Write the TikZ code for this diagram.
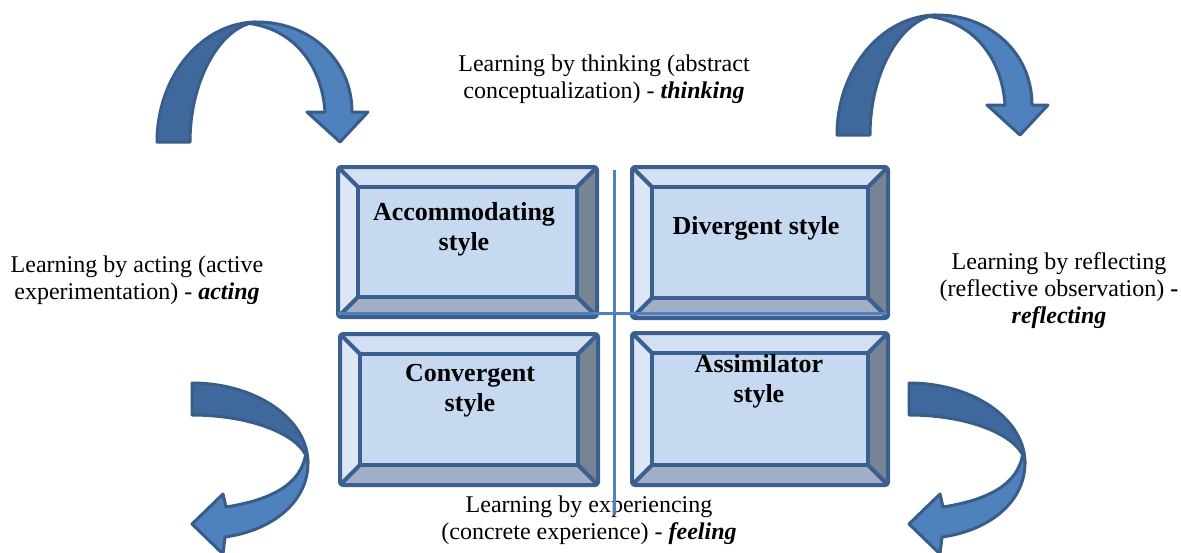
\documentclass[tikz,border=0pt]{standalone}
\usepackage{fontspec}
\setmainfont{Liberation Serif}
\usetikzlibrary{calc}
\definecolor{bord}{HTML}{3B5F8E}
\definecolor{bvtop}{HTML}{D3E0F3}
\definecolor{bvleft}{HTML}{DCE6F4}
\definecolor{bvright}{HTML}{778493}
\definecolor{bvbot}{HTML}{A1AEC5}
\definecolor{bvmid}{HTML}{C6D9F1}
\definecolor{arrdark}{HTML}{3F699C}
\definecolor{arrlight}{HTML}{4F81BD}
\definecolor{arredge}{HTML}{385D8A}
\definecolor{axisc}{HTML}{4F81BD}
\tikzset{
  bevline/.style={draw=bord, line width=2pt, line join=round},
  darkpart/.style={fill=arrdark, draw=arredge, line width=1.5pt, line join=round},
  lightpart/.style={fill=arrlight, draw=arredge, line width=1.5pt, line join=round},
  axisline/.style={draw=axisc, line width=1.5pt},
  boxlabel/.style={font=\fontsize{13}{15}\selectfont\bfseries, align=center, inner sep=0pt},
  outlabel/.style={font=\fontsize{12}{13.5}\selectfont, align=center, inner sep=0pt},
}
\newcommand\bevbox[5]{%
  \coordinate (#1-o1) at (#2,#3);
  \coordinate (#1-o2) at (#4,#3);
  \coordinate (#1-o3) at (#4,#5);
  \coordinate (#1-o4) at (#2,#5);
  \coordinate (#1-i1) at ($(#1-o1)+(20,20)$);
  \coordinate (#1-i2) at ($(#1-o2)+(-20,20)$);
  \coordinate (#1-i3) at ($(#1-o3)+(-20,-20)$);
  \coordinate (#1-i4) at ($(#1-o4)+(20,-20)$);
  \fill[bvtop] (#1-o1)--(#1-o2)--(#1-i2)--(#1-i1)--cycle;
  \fill[bvleft] (#1-o1)--(#1-i1)--(#1-i4)--(#1-o4)--cycle;
  \fill[bvright] (#1-o2)--(#1-o3)--(#1-i3)--(#1-i2)--cycle;
  \fill[bvbot] (#1-o4)--(#1-i4)--(#1-i3)--(#1-o3)--cycle;
  \fill[bvmid] (#1-i1) rectangle (#1-i3);
  \draw[bevline, rounded corners=1.5pt] (#1-o1) rectangle (#1-o3);
  \draw[bevline] (#1-i1) rectangle (#1-i3);
  \draw[bevline] (#1-o1)--(#1-i1) (#1-o2)--(#1-i2) (#1-o3)--(#1-i3) (#1-o4)--(#1-i4);
}
\newcommand\archarrow{%
  \draw[darkpart] (157,142) .. controls (157,76) and (202,22) .. (257,22)
    .. controls (222,25) and (190,78) .. (190,142) -- cycle;
  \draw[lightpart] (257,22) .. controls (310,22) and (352,60) .. (352,112)
    -- (368,112) -- (340,142) -- (307,112) -- (325,112)
    .. controls (322,64) and (292,27) .. (245,23) -- cycle;
}
\newcommand\hookarrow{%
  \draw[darkpart] (192,383) .. controls (256,383) and (308,419) .. (308,463)
    .. controls (306,438) and (256,415) .. (192,415) -- cycle;
  \draw[lightpart] (308,463) .. controls (308,500) and (275,530) .. (225,537)
    -- (223,554) -- (192,524) -- (223,494) -- (226,507)
    .. controls (270,500) and (302,485) .. (306,452) -- cycle;
}
\begin{document}
\begin{tikzpicture}[x=0.5pt, y=-0.5pt]
\useasboundingbox (0,0) rectangle (1181,552);

% curved arrows
\archarrow
\begin{scope}[shift={(680,-7)}]\archarrow\end{scope}
\hookarrow
\begin{scope}[shift={(717,0)}]\hookarrow\end{scope}

% bevelled boxes
\bevbox{acc}{338}{167}{597}{317}
\bevbox{div}{632}{167}{888}{318}
\bevbox{conv}{340}{334}{598}{485}
\bevbox{assim}{632}{333}{888}{485}

\node[boxlabel] (accl) at (464,229) {Accommodating\\style};
\node[boxlabel] (divl) at (756,228) {Divergent style};
\node[boxlabel] (convl) at (470,391) {Convergent\\style};
\node[boxlabel] (assiml) at (759,381) {Assimilator\\style};

% outer labels
\node[outlabel] (think) at (604,79) {Learning by thinking (abstract\\conceptualization) - \textbf{\textit{thinking}}};
\node[outlabel] (act) at (137,280) {Learning by acting (active\\experimentation) - \textbf{\textit{acting}}};
\node[outlabel] (refl) at (1059,291) {Learning by reflecting\\(reflective observation) \textbf{-}\\\textbf{\textit{reflecting}}};
\node[outlabel] (feel) at (589,520) {Learning by experiencing\\(concrete experience) - \textbf{\textit{feeling}}};

% axes
\coordinate (vt) at (614,170);
\coordinate (vb) at (614,515);
\coordinate (hl) at (338,313);
\coordinate (hr) at (887,313);
\draw[axisline] (vt) -- (vb);
\draw[axisline] (hl) -- (hr);
\end{tikzpicture}
\end{document}
